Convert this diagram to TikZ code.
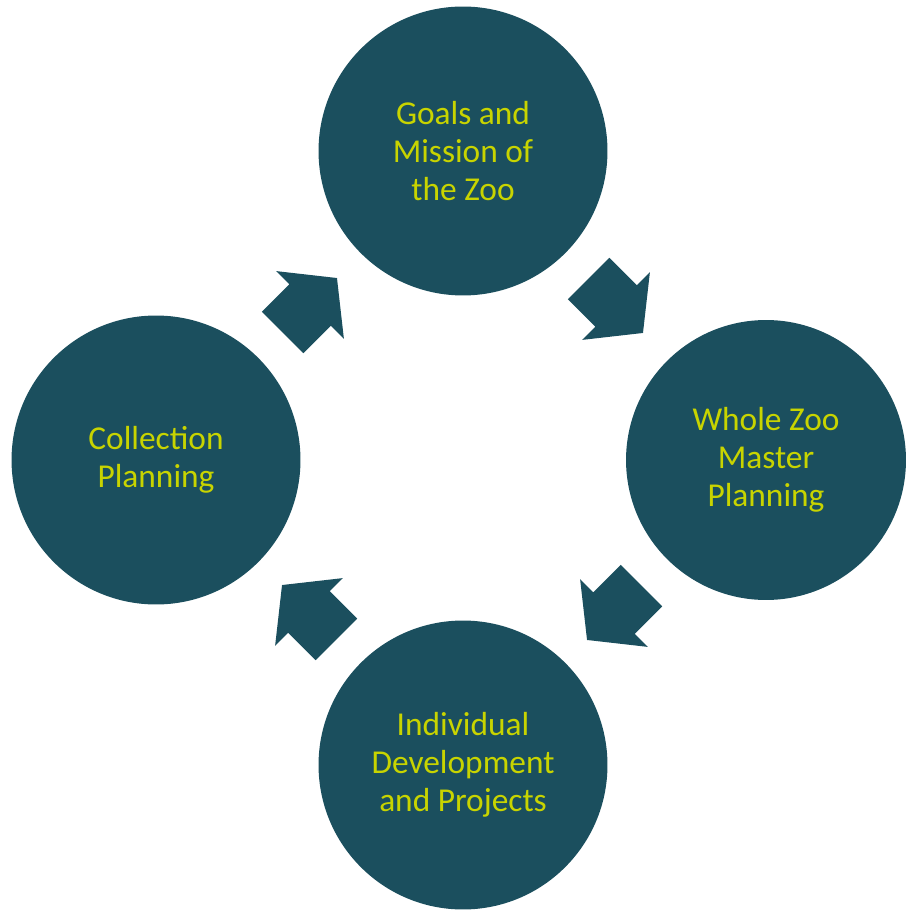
\documentclass[tikz,border=0pt]{standalone}
\usepackage{fontspec}
\setmainfont{Carlito}
\usepackage{tikz}
\usetikzlibrary{shapes.arrows,calc}
\usepackage{xcolor}
\definecolor{zooteal}{RGB}{27,79,94}
\definecolor{zoolime}{RGB}{200,212,0}

\begin{document}
\begin{tikzpicture}[x=0.02cm,y=-0.02cm,
  stage/.style={circle,fill=zooteal,text=zoolime,minimum size=5.78cm,inner sep=0pt,
    align=center,font=\fontsize{19}{21.6}\selectfont},
  flow/.style={single arrow,fill=zooteal,inner xsep=0pt,inner ysep=0.58cm,minimum height=1.54cm,
    single arrow head extend=0.37cm,single arrow tip angle=103}]
\useasboundingbox (0,0) rectangle (905,911);
\node[stage] (goals) at (463,151) {Goals and\\Mission of\\the Zoo};
\node[stage,minimum size=5.6cm] (master) at (766,460) {Whole Zoo\\Master\\Planning};
\node[stage] (projects) at (463,765) {Individual\\Development\\and Projects};
\node[stage] (collection) at (156,460) {Collection\\Planning};
\node[flow,rotate=-45] (a1) at ($(goals)!0.5!(master)+(-7,-8)$) {};
\node[flow,rotate=-135] (a2) at ($(master)!0.5!(projects)+(8,-8)$) {};
\node[flow,rotate=135] (a3) at ($(projects)!0.5!(collection)+(8,8)$) {};
\node[flow,rotate=45] (a4) at ($(collection)!0.5!(goals)+(-8,8)$) {};
\end{tikzpicture}
\end{document}
